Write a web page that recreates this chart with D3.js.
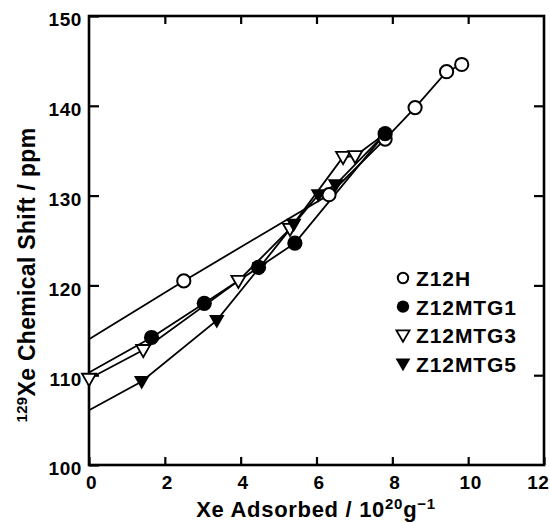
<!DOCTYPE html>
<html><head><meta charset="utf-8">
<script src="https://cdn.jsdelivr.net/npm/d3@7"></script>
<style>body{margin:0;background:#fff}svg{display:block}</style>
</head><body>
<svg id="c" width="550" height="523"></svg>
<script>
const seriesNames = ["Z12H", "Z12MTG1", "Z12MTG3", "Z12MTG5"];
// line intercepts at x = 0 (lines are drawn from the y axis)
const intercepts = [114.0, 110.3, 109.6, 106.1];
const h_x = [2.5, 6.33, 7.81, 8.6, 9.43, 9.83];
const h_y = [120.5, 130.1, 136.3, 139.8, 143.8, 144.6];
const g1_x = [1.65, 3.04, 4.47, 5.43, 7.81];
const g1_y = [114.2, 118.0, 122.0, 124.7, 136.9];
const g3_x = [0, 1.43, 3.94, 5.3, 6.7, 7.02];
const g3_y = [109.6, 112.8, 120.5, 126.3, 134.3, 134.4];
const g3_end = [7.81, 136.9];
const g5_x = [1.39, 3.37, 4.5, 5.4, 6.05, 6.5];
const g5_y = [109.3, 116.1, 122.0, 126.8, 130.1, 131.2];
const g5_end = [7.81, 136.9];
const xTicks = [0, 2, 4, 6, 8, 10, 12];
const yTicks = [100, 110, 120, 130, 140, 150];

const svg = d3.select("#c");
const L = 89, R = 544, T = 16, B = 465;
const x = d3.scaleLinear().domain([0, 12]).range([L, R]);
const y = d3.scaleLinear().domain([100, 150]).range([B, T]);
const FONT = "'Liberation Sans', Arial, Helvetica, sans-serif";

function styleAxis(g, w) {
  g.select(".domain").remove();
  g.selectAll(".tick line").attr("stroke", "#000").attr("stroke-width", w);
  g.selectAll("text").attr("font-family", FONT).attr("font-weight", "bold")
    .attr("font-size", 19).attr("letter-spacing", 0.6).attr("fill", "#000");
}
const gx = svg.append("g").attr("transform", `translate(0,${B})`)
  .call(d3.axisBottom(x).tickValues(xTicks).tickSize(-8).tickPadding(10));
styleAxis(gx, 2.2);
gx.selectAll(".tick text").attr("dy", "0.72em").attr("dx", 2);
gx.selectAll(".tick text").filter(d => d === 12).attr("text-anchor", "end").attr("dx", 5);
const gxt = svg.append("g").attr("transform", `translate(0,${T})`)
  .call(d3.axisTop(x).tickValues(xTicks.slice(1, -1)).tickSize(-8).tickFormat(""));
styleAxis(gxt, 2.2);
const gy = svg.append("g").attr("transform", `translate(${L},0)`)
  .call(d3.axisLeft(y).tickValues(yTicks).tickSize(-10).tickPadding(7));
styleAxis(gy, 2.2);
gy.selectAll(".tick text").attr("dy", "0.52em");
const gyr = svg.append("g").attr("transform", `translate(${R},0)`)
  .call(d3.axisRight(y).tickValues(yTicks.slice(1, -1)).tickSize(-10).tickFormat(""));
styleAxis(gyr, 2.2);

// frame
svg.append("rect").attr("x", L).attr("y", T).attr("width", R - L).attr("height", B - T)
  .attr("fill", "none").attr("stroke", "#000").attr("stroke-width", 2.6);

const line = d3.line().x(d => x(d[0])).y(d => y(d[1]));
const zip = (xs, ys) => xs.map((v, i) => [v, ys[i]]);
const ptsH = zip(h_x, h_y), pts1 = zip(g1_x, g1_y), pts3 = zip(g3_x, g3_y), pts5 = zip(g5_x, g5_y);
const lines = [
  [[0, intercepts[0]], ...ptsH],
  [[0, intercepts[1]], ...pts1],
  [...pts3, g3_end],
  [[0, intercepts[3]], ...pts5, g5_end]
];
const plot = svg.append("g");
lines.forEach(l => plot.append("path").attr("d", line(l)).attr("fill", "none")
  .attr("stroke", "#000").attr("stroke-width", 1.8));

const tri = (s) => d3.symbol(d3.symbolTriangle, s)();
function marker(g, kind, cx, cy, big) {
  const r = big ? 6.6 : 5.2;
  const ts = big ? 85 : 75;
  if (kind === 0) g.append("circle").attr("cx", cx).attr("cy", cy).attr("r", r)
    .attr("fill", "#fff").attr("stroke", "#000").attr("stroke-width", 2);
  else if (kind === 1) g.append("circle").attr("cx", cx).attr("cy", cy).attr("r", r + 1)
    .attr("fill", "#000");
  else if (kind === 2) g.append("path").attr("d", tri(ts)).attr("transform", `translate(${cx},${cy - 1}) rotate(180)`)
    .attr("fill", "#fff").attr("stroke", "#000").attr("stroke-width", 1.8);
  else g.append("path").attr("d", tri(ts + 20)).attr("transform", `translate(${cx},${cy - 1}) rotate(180)`)
    .attr("fill", "#000");
}
[ptsH, pts1, pts3, pts5].forEach((pts, k) => pts.forEach(p => marker(plot, k, x(p[0]), y(p[1]), true)));

// legend
const lg = svg.append("g");
seriesNames.forEach((n, i) => {
  const cy = 278 + i * 28.6;
  marker(lg, i, 403, cy, false);
  lg.append("text").attr("x", 416).attr("y", cy + 8).text(n)
    .attr("font-family", FONT).attr("font-weight", "bold").attr("font-size", 21)
    .attr("letter-spacing", 0.9);
});

// axis titles
const xt = svg.append("text").attr("x", 316).attr("y", 517).attr("text-anchor", "middle")
  .attr("font-family", FONT).attr("font-weight", "bold").attr("font-size", 22).attr("letter-spacing", 0.7);
xt.append("tspan").text("Xe Adsorbed / 10");
xt.append("tspan").text("20").attr("font-size", 15).attr("dy", -8);
xt.append("tspan").text("g").attr("dy", 8);
xt.append("tspan").text("\u22121").attr("font-size", 15).attr("dy", -8);

const yt = svg.append("text").attr("transform", "translate(35,275) rotate(-90)").attr("text-anchor", "middle")
  .attr("font-family", FONT).attr("font-weight", "bold").attr("font-size", 23).attr("letter-spacing", 0.3);
yt.append("tspan").text("129").attr("font-size", 15).attr("dy", -8);
yt.append("tspan").text("Xe Chemical Shift / ppm").attr("dy", 8);
</script>
</body></html>
